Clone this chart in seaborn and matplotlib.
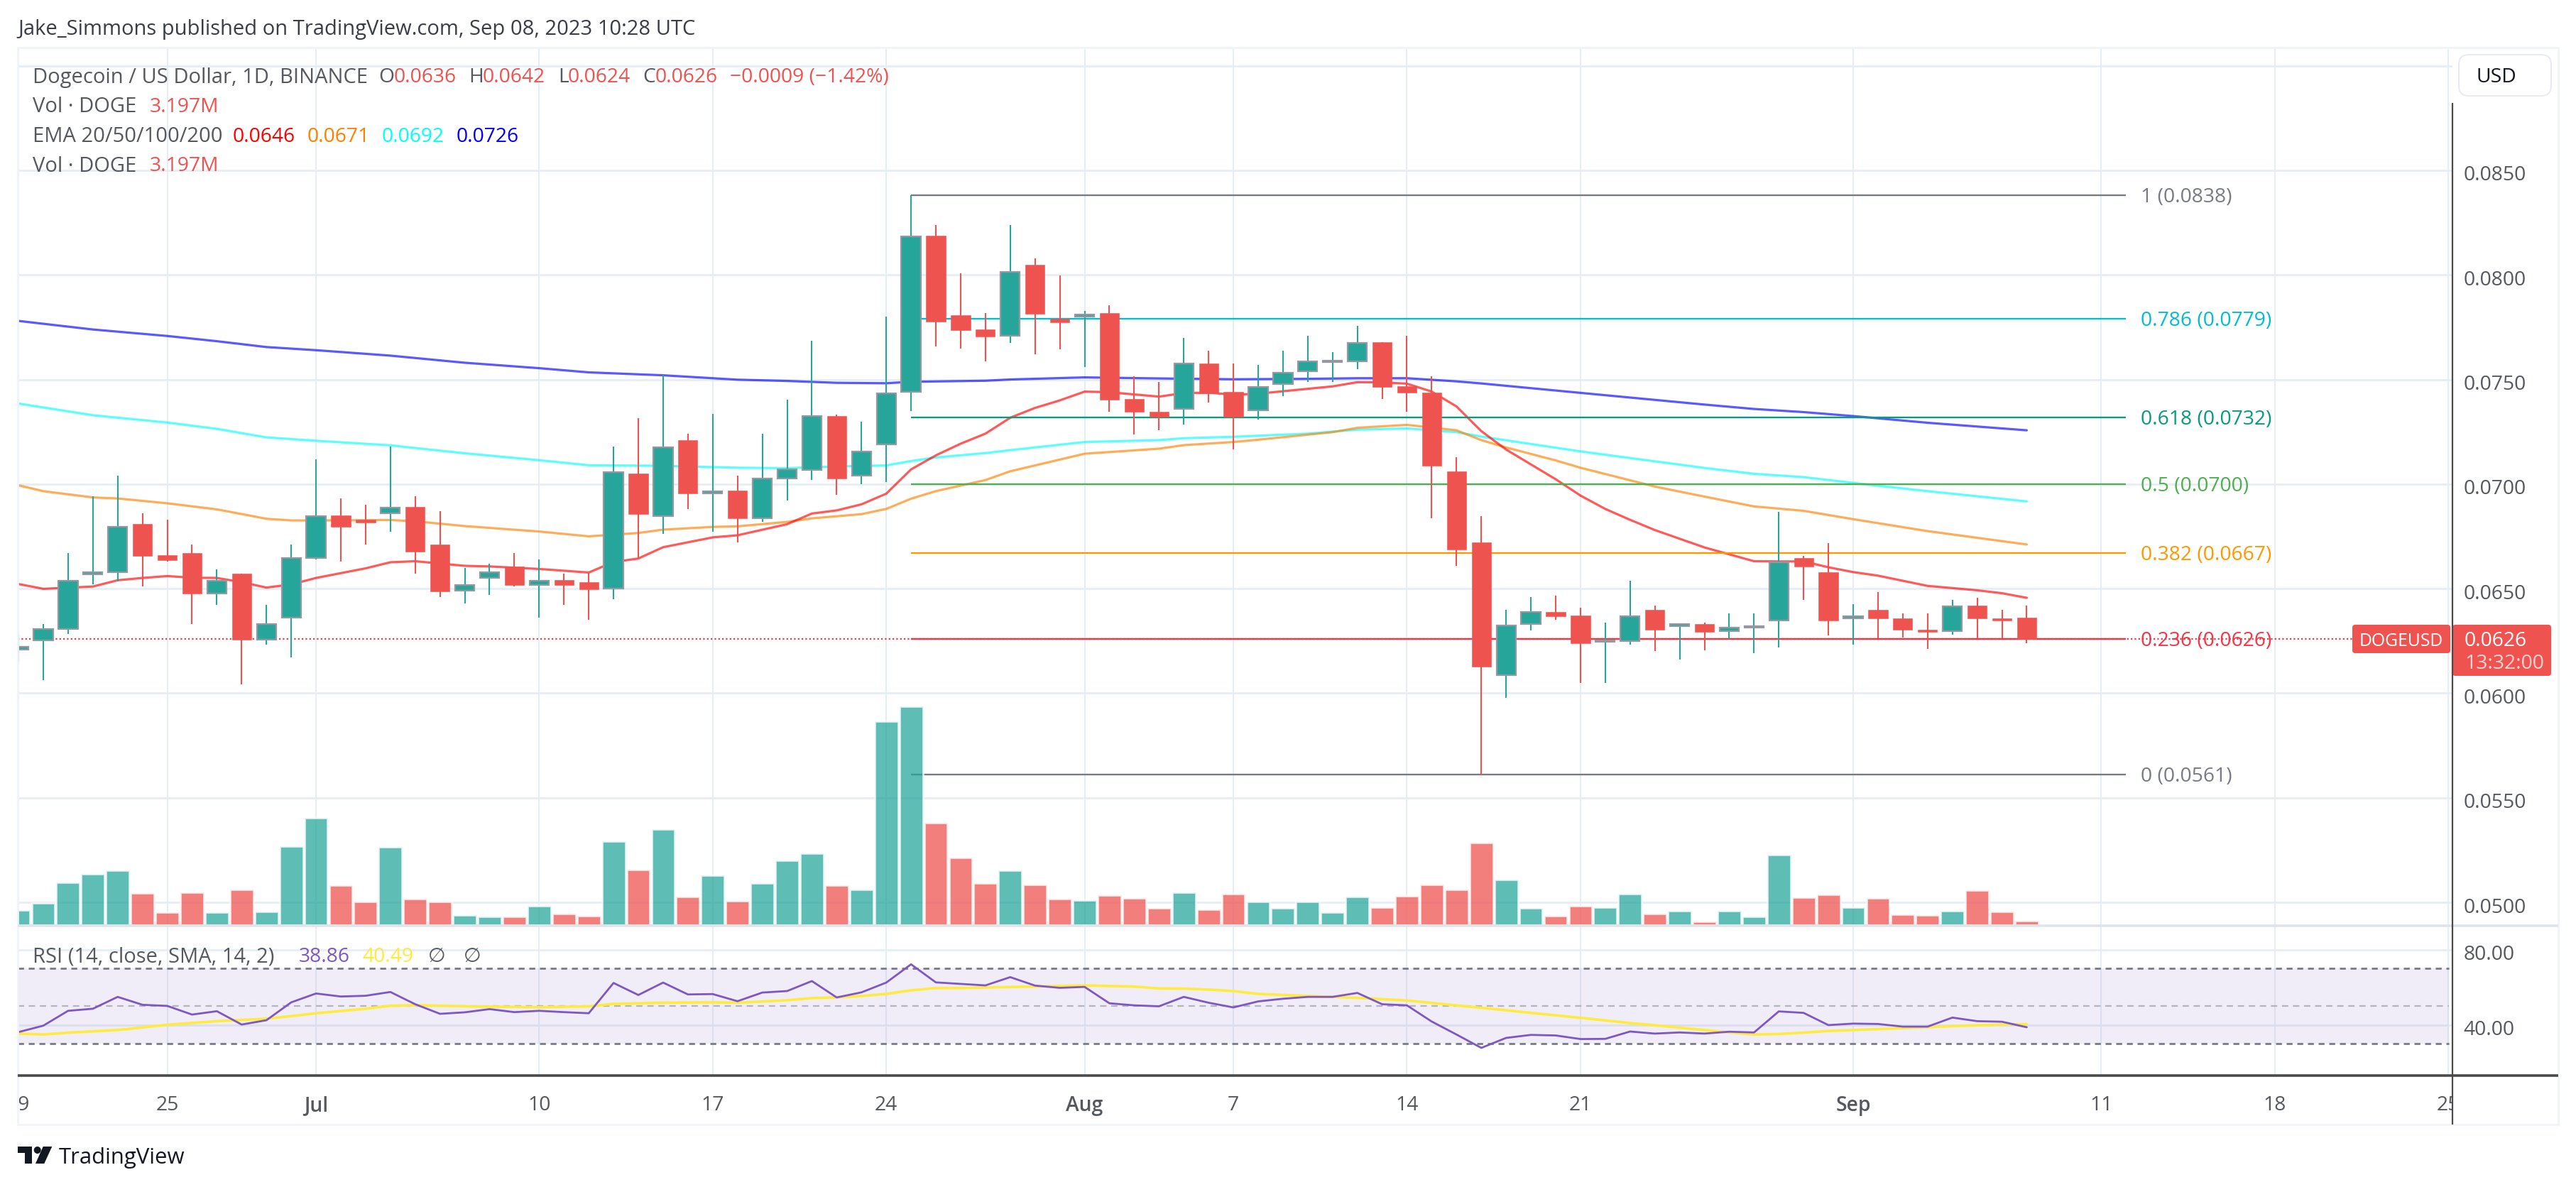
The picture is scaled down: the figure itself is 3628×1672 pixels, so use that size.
import numpy as np
import pandas as pd
import seaborn as sns
import matplotlib
matplotlib.use('Agg')
import matplotlib.pyplot as plt
from matplotlib.patches import FancyBboxPatch, Polygon, Circle, Rectangle
from matplotlib.transforms import Bbox, ScaledTranslation

# day 0 is Jun 19 2023, day 81 is Sep 8 2023
open_ = [.06210, .06252, .06308, .06569, .06580, .06809, .06660, .06670, .06477, .06571,
         .06257, .06360, .06648, .06850, .06829, .06859, .06890, .06710, .06489, .06550,
         .06607, .06519, .06541, .06531, .06499, .07050, .06848, .07209, .06956, .06968,
         .06837, .07028, .07067, .07325, .07040, .07188, .07439, .08186, .07807, .07739,
         .07708, .08048, .07789, .07801, .07817, .07408, .07347, .07358, .07578, .07439,
         .07354, .07477, .07538, .07583, .07588, .07677, .07467, .07437, .07060, .06720,
         .06087, .06329, .06388, .06371, .06246, .06250, .06399, .06322, .06329, .06296,
         .06312, .06348, .06645, .06577, .06359, .06397, .06357, .06305, .06298, .06418,
         .06357, .0636]
close = [.06222, .06308, .06538, .06580, .06796, .06657, .06636, .06477, .06538, .06257,
         .06329, .06648, .06847, .06795, .06816, .06888, .06678, .06488, .06518, .06579,
         .06518, .06538, .06518, .06498, .07058, .06857, .07176, .06955, .06967, .06837,
         .07027, .07069, .07325, .07026, .07155, .07435, .08183, .07777, .07737, .07704,
         .08015, .07813, .07775, .07810, .07404, .07344, .07321, .07576, .07434, .07321,
         .07463, .07534, .07586, .07590, .07675, .07463, .07437, .07087, .06687, .06127,
         .06324, .06388, .06369, .06239, .06253, .06368, .06305, .06331, .06295, .06315,
         .06319, .06627, .06605, .06347, .06368, .06357, .06305, .06295, .06416, .06357,
         .06347, .0626]
high = [.06279, .06329, .06670, .06941, .07040, .06859, .06829, .06710, .06592, .06571,
        .06422, .06710, .07118, .06931, .06900, .07179, .06941, .06870, .06598, .06618,
        .06670, .06638, .06571, .06576, .07179, .07315, .07522, .07240, .07336, .07040,
        .07240, .07404, .07685, .07333, .07297, .07800, .08380, .08238, .08006, .07817,
        .08238, .08079, .07997, .07827, .07856, .07517, .07488, .07697, .07637, .07578,
        .07569, .07637, .07708, .07630, .07758, .07677, .07708, .07517, .07127, .06848,
        .06399, .06458, .06468, .06409, .06338, .06538, .06420, .06331, .06336, .0638,
        .0638, .06867, .06657, .06719, .06425, .06485, .0638, .0638, .06445, .06455,
        .06399, .0642]
low = [.06152, .06063, .06282, .06521, .06533, .06510, .06630, .06330, .06422, .06043,
       .06232, .06171, .06640, .06630, .06710, .06773, .06571, .06459, .06430, .06471,
       .06510, .06362, .06422, .06352, .06449, .06644, .06761, .06881, .06773, .06722,
       .06819, .06921, .07020, .06948, .06999, .07008, .07349, .07657, .07647, .07588,
       .07676, .07619, .07646, .07559, .07347, .07238, .07259, .07286, .07389, .07167,
       .07307, .07420, .07489, .07489, .07548, .07408, .07347, .06837, .06608, .0561,
       .05976, .06301, .06352, .0605, .0605, .06231, .06201, .0616, .06204, .0626,
       .0619, .0622, .06447, .06277, .06231, .06262, .06266, .06211, .0628, .06262,
       .06262, .0624]
volume = [11.2, 16.4, 31.9, 38.3, 41.0, 23.9, 9.6, 24.4, 9.6, 26.7,
          10.0, 59.1, 80.3, 29.9, 17.6, 58.6, 19.6, 17.6, 7.5, 6.4,
          6.4, 14.4, 8.4, 6.8, 62.7, 41.5, 71.8, 21.2, 37.2, 18.0,
          31.5, 48.3, 53.8, 29.9, 26.7, 152.8, 163.9, 76.6, 50.6, 31.5,
          41.0, 30.3, 19.6, 18.7, 22.3, 20.3, 12.8, 24.4, 11.6, 23.5,
          17.6, 12.8, 17.6, 9.6, 21.2, 13.2, 21.9, 30.3, 26.7, 61.8,
          34.0, 12.8, 6.8, 14.4, 13.2, 23.5, 8.4, 10.7, 2.7, 10.7,
          6.4, 52.7, 20.7, 22.8, 13.2, 20.3, 8.0, 7.5, 10.7, 26.0,
          10.0, 3.197]
rsi = [36.3, 39.7, 47.6, 48.7, 55.0, 50.8, 50.2, 45.6, 47.4, 40.3,
       42.6, 52.1, 56.8, 55.2, 55.6, 57.6, 51.1, 46.0, 46.8, 48.5,
       46.9, 47.6, 46.9, 46.3, 62.4, 56.0, 62.6, 56.3, 56.5, 52.7,
       57.3, 58.1, 63.4, 54.7, 57.4, 62.6, 72.3, 62.7, 61.9, 61.1,
       65.5, 61.0, 59.8, 60.3, 51.6, 50.5, 50.0, 55.0, 51.9, 49.4,
       52.6, 54.0, 55.0, 55.0, 57.1, 51.1, 50.5, 41.9, 35.0, 27.9,
       33.2, 34.8, 34.5, 32.6, 32.7, 36.6, 35.5, 36.1, 35.5, 36.5,
       36.1, 47.3, 46.5, 40.0, 40.8, 40.6, 39.2, 39.2, 44.0, 42.1,
       41.8, 38.86]
rsi_ma_days = [0, 1, 2, 4, 6, 8, 10, 11, 12, 14, 15, 16, 18, 21, 23, 24, 26, 28, 29, 31, 32, 33, 34, 35, 36,
               37, 38, 39, 41, 43, 45, 46, 47, 48, 49, 50, 52, 54, 56, 58, 59, 60, 61, 63, 65, 67, 69, 70,
               71, 72, 73, 75, 77, 78, 80, 81]
rsi_ma = [35.5, 35.0, 36.0, 37.4, 40.2, 42.1, 43.4, 44.8, 46.3, 48.7, 50.3, 50.6, 50.0, 49.5, 50.0, 51.3, 51.9, 52.1, 51.9, 53.2, 54.4, 54.7, 55.5, 56.6, 58.5,
          59.7, 59.7, 60.0, 60.5, 61.1, 60.5, 59.5, 59.4, 58.9, 58.1, 56.6, 55.5, 54.5, 53.1, 50.5, 49.2, 47.9, 46.5, 43.9, 41.1, 38.7, 36.1, 35.0,
          35.3, 36.0, 36.9, 37.9, 38.9, 39.5, 40.3, 40.49]

ema200_days = [0, 3, 6, 8, 10, 12, 15, 18, 21, 23, 26, 29, 31, 33, 35, 36, 39, 40, 43, 46, 49, 52, 54, 56, 58, 59, 63, 68, 70, 72, 74, 77, 81]
ema200 = [.07780, .07739, .07708, .07683, .07655, .07640, .07614, .07580, .07554, .07534, .07520, .07499, .07493, .07484, .07482, .07489, .07494,
          .07500, .07510, .07505, .07501, .07503, .07506, .07506, .07491, .07481, .07436, .07380, .07359, .07344, .07325, .07293, .07257]
ema100_days = [0, 3, 6, 8, 10, 12, 15, 18, 21, 23, 26, 29, 31, 33, 35, 36, 37, 39, 40, 43, 46, 47, 49, 52, 54, 56, 58, 59, 63, 68, 70, 72, 75, 77, 81]
ema100 = [.07385, .07329, .07294, .07264, .07223, .07207, .07185, .07147, .07114, .07090, .07087, .07078, .07076, .07084, .07089, .07110, .07127, .07148,
          .07162, .07201, .07210, .07219, .07226, .07241, .07260, .07266, .07248, .07227, .07156, .07077, .07049, .07033, .06992, .06966, .06917]
ema50_days = [0, 1, 3, 4, 6, 8, 10, 11, 12, 15, 16, 18, 21, 23, 25, 26, 28, 29, 31, 32, 34, 35, 36, 37, 39, 40, 43, 46, 47, 49, 50, 53, 54, 56, 58, 59, 60, 62, 63, 66, 68, 70, 72, 74, 77, 81]
ema50 = [.06994, .06966, .06936, .06931, .06908, .06879, .06834, .06826, .06826, .06828, .06822, .06799, .06773, .06750, .06766, .06782, .06795, .06798,
         .06819, .06836, .06856, .06881, .06930, .06966, .07019, .07061, .07145, .07169, .07186, .07201, .07212, .07248, .07269, .07283, .07257, .07210,
         .07175, .07113, .07078, .06988, .06940, .06893, .06872, .06832, .06775, .06711]
ema20_days = [0, 1, 3, 4, 5, 6, 7, 8, 9, 10, 11, 12, 14, 15, 16, 18, 19, 21, 23, 24, 25, 26, 28, 29, 31, 32, 33, 34, 35, 36, 37, 38, 39, 40, 41, 42, 43, 44, 46, 47, 48, 49, 50,
              53, 54, 55, 56, 57, 58, 59, 60, 62, 63, 64, 65, 66, 68, 70, 71, 72, 73, 74, 75, 77, 79, 80, 81]
ema20 = [.06522, .06499, .06510, .06540, .06551, .06560, .06552, .06551, .06531, .06505, .06520, .06551, .06597, .06626, .06631, .06609, .06606, .06594, .06577,
         .06627, .06644, .06698, .06745, .06755, .06808, .06859, .06874, .06903, .06954, .07070, .07137, .07193, .07241, .07317, .07364, .07400, .07442, .07439,
         .07418, .07435, .07437, .07427, .07432, .07467, .07487, .07486, .07480, .07442, .07371, .07253, .07165, .07023, .06945, .06881, .06829, .06780, .06697,
         .06631, .06630, .06630, .06602, .06579, .06562, .06513, .06492, .06478, .06456]

fib_levels = [.0838, .0779, .0732, .0700, .0667, .0626, .0561]
fib_names = ['1', '0.786', '0.618', '0.5', '0.382', '0.236', '0']
fib_colors = ['#787B86', '#00BCD4', '#089981', '#4CAF50', '#FF9800', '#F23645', '#787B86']

date_ticks = [0, 6, 12, 21, 28, 35, 43, 49, 56, 63, 74, 84, 91, 98]
date_labels = ['19', '25', 'Jul', '10', '17', '24', 'Aug', '7', '14', '21', 'Sep', '11', '18', '25']
price_ticks = [.05, .055, .06, .065, .07, .075, .08, .085, .09]
price_labels = ['0.0500', '0.0550', '0.0600', '0.0650', '0.0700', '0.0750', '0.0800', '0.0850', '']

W, H = 3628, 1672
UP, DOWN = '#26A69A', '#EF5350'
GRID = '#E6EEF5'
TXT = '#55585F'
FS = 10.2
FS_LEG = 10.5

sns.set_theme(style='white')
plt.rcParams['font.family'] = ['Open Sans', 'DejaVu Sans']


def px_box(left, top, right, bottom):
    return [left / W, 1 - bottom / H, (right - left) / W, (bottom - top) / H]


fig = plt.figure(figsize=(W / 200, H / 200), dpi=200, facecolor='white')
ax = fig.add_axes(px_box(25, 67, 3454, 1304))
ax_rsi = fig.add_axes(px_box(25, 1304, 3454, 1515))
xlim = (-0.03, 98.17)
days = np.arange(len(close))
open_, close, high, low = map(np.array, (open_, close, high, low))
rising = close >= open_

ax_vol = ax.twinx()
ax.yaxis.tick_right()
ax.yaxis.set_label_position('right')

# emas and fib levels sit behind the candles
for vals, ds, col in [(ema200, ema200_days, '#0000FF'), (ema100, ema100_days, '#00FFFF'),
                      (ema50, ema50_days, '#FF8000'), (ema20, ema20_days, '#FF0000')]:
    sns.lineplot(x=ds, y=vals, color=col, alpha=0.65, linewidth=1.15, errorbar=None, ax=ax, zorder=2)

for lev, name, col in zip(fib_levels, fib_names, fib_colors):
    ax.hlines(lev, 36, 85, color=col, linewidth=0.85, zorder=2)
    ax.annotate(f'{name} ({lev:.4f})', xy=(85.6, lev), xytext=(0, -1.1), textcoords='offset points',
                color=col, fontsize=FS, va='center', ha='left', zorder=6)

ax.axhline(close[-1], xmax=0.959, color='#F23645', linewidth=0.8, linestyle=(0, (1, 1.4)), zorder=2)

# candles
ax.vlines(days[rising], low[rising], high[rising], color=UP, linewidth=0.75, zorder=3)
ax.vlines(days[~rising], low[~rising], high[~rising], color=DOWN, linewidth=0.75, zorder=3)
ax.bar(days[rising], (close - open_)[rising], bottom=open_[rising], width=0.78, color=UP, edgecolor='#9598A1', linewidth=0.8, zorder=4)
ax.bar(days[~rising], (close - open_)[~rising], bottom=open_[~rising], width=0.78, color=DOWN, edgecolor=DOWN, linewidth=0.2, zorder=4)

ax.set_ylim(.04888, .09087)
ax.set_yticks(price_ticks, price_labels)
ax.set_xlim(*xlim)
ax.set_xticks(date_ticks)
ax.tick_params(axis='x', labelbottom=False, length=0)
ax.tick_params(axis='y', length=0, pad=5.6, labelsize=FS, labelcolor=TXT)
ax.set_axisbelow(True)
ax.grid(True, axis='y', color=GRID, linewidth=1.0)
ax.grid(True, axis='x', color=GRID, linewidth=0.75)
ax.set_xlabel('')

# volume overlay
vol_df = pd.DataFrame({'day': days, 'volume': volume, 'dir': np.where(rising, 'up', 'down')})
sns.barplot(data=vol_df, x='day', y='volume', hue='dir', palette={'up': UP, 'down': DOWN}, native_scale=True,
            dodge=False, width=0.94, saturation=1, alpha=0.74, legend=False, ax=ax_vol)
ax_vol.set_ylim(-0.53, 657.4)
ax_vol.set_xlim(*xlim)
ax_vol.set_yticks([])
ax_vol.set_ylabel('')
ax_vol.set_xlabel('')
ax_vol.patch.set_visible(False)

# rsi pane
ax_rsi.axhspan(30, 70, xmax=0.9985, color='#7E57C2', alpha=0.1, linewidth=0)
ax_rsi.axhline(70, xmax=0.9985, color='#787B86', linewidth=1.0, linestyle=(0, (3, 2.4)))
ax_rsi.axhline(30, xmax=0.9985, color='#787B86', linewidth=1.0, linestyle=(0, (3, 2.4)))
ax_rsi.axhline(50, xmax=0.9985, color='#B2B5BE', linewidth=0.8, linestyle=(0, (4, 3)))
sns.lineplot(x=rsi_ma_days, y=rsi_ma, color='#FFEB3B', linewidth=1.3, errorbar=None, ax=ax_rsi, zorder=3)
sns.lineplot(x=days, y=rsi, color='#7E57C2', linewidth=1.0, errorbar=None, ax=ax_rsi, zorder=4)
ax_rsi.set_ylim(13.2, 92.8)
ax_rsi.set_xlim(*xlim)
ax_rsi.yaxis.tick_right()
ax_rsi.set_yticks([40, 80], ['40.00', '80.00'])
ax_rsi.set_xticks(date_ticks, date_labels)
ax_rsi.tick_params(axis='y', length=0, pad=5.6, labelsize=FS, labelcolor=TXT)
ax_rsi.tick_params(axis='x', length=0, pad=10, labelsize=FS, labelcolor=TXT)
ax_rsi.set_axisbelow(True)
ax_rsi.grid(True, axis='y', color=GRID, linewidth=1.0)
ax_rsi.grid(True, axis='x', color=GRID, linewidth=0.75)
clip = Bbox([[25, 0], [3454, H]])
for lbl, name in zip(ax_rsi.get_xticklabels(), date_labels):
    lbl.set_clip_box(clip)
    lbl.set_clip_on(True)
    if name in ('Jul', 'Aug', 'Sep'):
        lbl.set_fontweight('semibold')

# price labels sit a little under their grid lines
nudge = ScaledTranslation(0, -4 / 200, fig.dpi_scale_trans)
for a in (ax, ax_rsi):
    for lbl in a.get_yticklabels():
        lbl.set_transform(lbl.get_transform() + nudge)

for a in (ax, ax_vol, ax_rsi):
    for s in a.spines.values():
        s.set_visible(False)

# overlay in pixel coordinates for the chrome around the panes
ov = fig.add_axes([0, 0, 1, 1], zorder=10)
ov.set_xlim(0, W)
ov.set_ylim(H, 0)
ov.axis('off')
ov.patch.set_visible(False)

ov.add_patch(Rectangle((25, 67), 3578, 1517, fill=False, edgecolor='#F0F3FA', linewidth=1.0))
ov.plot([25, 3603], [1304, 1304], color='#E0E3EB', linewidth=1.3, solid_capstyle='butt')
ov.plot([25, 3603], [1515, 1515], color='#4A4A4A', linewidth=1.3, solid_capstyle='butt')
ov.plot([3454, 3454], [145, 1584], color='#4A4A4A', linewidth=0.8, solid_capstyle='butt')

ov.add_patch(FancyBboxPatch((3469, 83), 118, 46, boxstyle='round,pad=6,rounding_size=14', facecolor='white', edgecolor='#E8EAF2', linewidth=0.7))
ov.text(3487, 109, 'USD', color='#131722', fontsize=FS, va='center', ha='left')

ov.add_patch(FancyBboxPatch((3317, 884), 130, 32, boxstyle='round,pad=4,rounding_size=4', facecolor=DOWN, edgecolor='none'))
ov.add_patch(FancyBboxPatch((3458, 884), 131, 64, boxstyle='round,pad=4,rounding_size=4', facecolor=DOWN, edgecolor='none'))
ov.text(3323, 903, 'DOGEUSD', color='white', fontsize=8.9, va='center', ha='left')
ov.text(3471, 903, '0.0626', color='white', fontsize=FS, va='center', ha='left')
ov.text(3471, 935, '13:32:00', color='white', alpha=0.75, fontsize=FS, va='center', ha='left')

ov.text(25, 41, 'Jake_Simmons published on TradingView.com, Sep 08, 2023 10:28 UTC', color='#3A3D46', fontsize=FS_LEG, va='center', ha='left')

legend_rows = [
    (109, [(46, 'Dogecoin / US Dollar, 1D, BINANCE', TXT), (533, 'O', TXT), (555, '0.0636', DOWN), (660, 'H', TXT), (680, '0.0642', DOWN),
           (786, 'L', TXT), (800, '0.0624', DOWN), (905, 'C', TXT), (923, '0.0626', DOWN), (1028, '\u22120.0009 (\u22121.42%)', DOWN)]),
    (151, [(46, 'Vol \u00b7 DOGE', TXT), (211, '3.197M', DOWN)]),
    (193, [(46, 'EMA 20/50/100/200', TXT), (328, '0.0646', '#FF0000'), (433, '0.0671', '#FF8000'), (538, '0.0692', '#00FFFF'), (643, '0.0726', '#0000FF')]),
    (234, [(46, 'Vol \u00b7 DOGE', TXT), (211, '3.197M', DOWN)]),
    (1348, [(46, 'RSI (14, close, SMA, 14, 2)', TXT), (421, '38.86', '#7E57C2'), (510, '40.49', '#FFEB3B'), (603, '\u2205', TXT), (653, '\u2205', TXT)]),
]
for y, parts in legend_rows:
    for x, s, col in parts:
        ov.text(x, y, s, color=col, fontsize=FS_LEG if x == 46 else FS, va='center', ha='left')

# TradingView logo
LOGO = '#131722'
ov.add_patch(Polygon([(25, 1615), (45, 1615), (45, 1639), (35, 1639), (35, 1623.5), (25, 1623.5)], facecolor=LOGO, edgecolor='none'))
ov.add_patch(Circle((52.7, 1620), 5, facecolor=LOGO, edgecolor='none'))
ov.add_patch(Polygon([(60.7, 1615), (73.3, 1615), (62.3, 1639), (50, 1639)], facecolor=LOGO, edgecolor='none'))
ov.text(83, 1631, 'TradingView', color=LOGO, fontsize=11.2, va='center', ha='left')

fig.savefig('out.png', dpi=200, facecolor='white')
